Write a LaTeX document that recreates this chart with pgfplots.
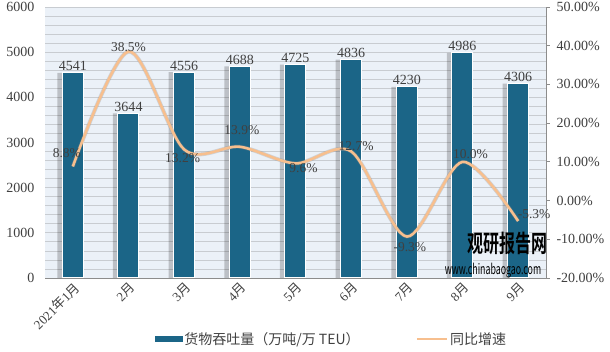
\documentclass[border=0pt]{standalone}
\usepackage{pgfplots}
\pgfplotsset{compat=1.18}
\usepackage{fontspec}
\setmainfont{Liberation Serif}
\newfontfamily\cjk{Noto Sans CJK SC}
\newfontfamily\cjkb{Noto Sans CJK SC Bold}
\definecolor{barc}{HTML}{1B6587}
\definecolor{bgc}{HTML}{EBF1F8}
\definecolor{gridc}{HTML}{C8CCD1}
\definecolor{linec}{HTML}{F7BF8E}
\definecolor{textc}{HTML}{404040}
\definecolor{axc}{HTML}{8C8C8C}
\pgfkeys{/pgf/number format/1000 sep={}}
\newcommand\lbl[4]{\addplot[draw=none, forget plot, nodes near coords, point meta=explicit symbolic,
  nodes near coords style={anchor=center, xshift=#3pt, yshift=#4pt, font=\fontsize{13.5}{14}\selectfont, text=textc, inner sep=0pt}]
  coordinates {(#1) [#2]};}
\begin{document}
\begin{tikzpicture}
\path[use as bounding box] (0,0) rectangle (610pt,352pt);
\begin{axis}[
  at={(45pt,74pt)}, anchor=south west, scale only axis,
  width=501pt, height=271pt,
  xmin=-0.5, xmax=8.5, ymin=0, ymax=6000,
  ytick={0,1000,...,6000}, minor y tick num=4,
  ymajorgrids, yminorgrids,
  grid style={draw=gridc, line width=0.75pt},
  minor grid style={draw=gridc, line width=0.75pt},
  axis background/.style={fill=bgc},
  axis x line*=bottom, axis y line*=left,
  y axis line style={draw=none},
  x axis line style={draw=axc, line width=0.8pt, -},
  major tick length=0pt, minor tick length=0pt,
  xtick={0,...,8},
  xticklabels={2021{\cjk 年}1{\cjk 月},2{\cjk 月},3{\cjk 月},4{\cjk 月},5{\cjk 月},6{\cjk 月},7{\cjk 月},8{\cjk 月},9{\cjk 月}},
  x tick label style={rotate=45, anchor=north east, font=\fontsize{13}{13}\selectfont, text=textc, inner sep=2pt},
  y tick label style={font=\fontsize{14}{14}\selectfont, text=textc, xshift=-7pt},
  /pgf/number format/assume math mode=true,
  yticklabel={\pgfmathprintnumber[1000 sep={}]{\tick}},
  ybar, bar width=21pt,
  clip=false,
]
\addplot[bar shift=-3pt, bar width=25pt, fill=black, draw=none, opacity=0.2, forget plot]
  coordinates {(0,4541) (1,3644) (2,4556) (3,4688) (4,4725) (5,4836) (6,4230) (7,4986) (8,4306)};
\addplot[bar shift=0pt, fill=barc, draw=white, line width=1pt,
  nodes near coords={\pgfmathprintnumber[1000 sep={}]{\pgfplotspointmeta}},
  nodes near coords style={font=\fontsize{14}{14}\selectfont, text=textc, inner sep=1.5pt, anchor=south}]
  coordinates {(0,4541) (1,3644) (2,4556) (3,4688) (4,4725) (5,4836) (6,4230) (7,4986) (8,4306)};
\end{axis}
\begin{axis}[
  at={(45pt,74pt)}, anchor=south west, scale only axis,
  width=501pt, height=271pt,
  xmin=-0.5, xmax=8.5, ymin=-20, ymax=50,
  axis x line=none, axis y line*=right,
  y axis line style={draw=axc, line width=0.8pt, -},
  ytick={-20,-10,...,50},
  tick align=outside, major tick length=4pt,
  tick style={draw=axc, line width=0.8pt},
  /pgf/number format/assume math mode=true,
  yticklabel={\pgfmathprintnumber[fixed, fixed zerofill, precision=2]{\tick}\%},
  y tick label style={font=\fontsize{14}{14}\selectfont, text=textc, xshift=3pt},
  clip=false,
  legend style={at={(0.572,-0.225)}, anchor=center, draw=none, fill=none,
    font=\cjk\fontsize{14}{14}\selectfont, text=textc, legend columns=2,
    /tikz/every even column/.append style={column sep=54pt}},
]
\addlegendimage{legend image code/.code={\fill[barc] (0pt,-2.5pt) rectangle (27pt,2.5pt);}}
\addlegendentry{货物吞吐量（万吨/万 TEU）}
\addlegendimage{legend image code/.code={\draw[linec, line width=2.5pt] (0pt,0pt) -- (30pt,0pt);}}
\addlegendentry{同比增速}
\addplot[smooth, draw=black!45, opacity=0.3, line width=4pt, forget plot]
  coordinates {(0,8.8) (1,38.5) (2,13.2) (3,13.9) (4,9.6) (5,12.7) (6,-9.3) (7,10.0) (8,-5.3)};
\addplot[smooth, draw=linec, line width=2.6pt, forget plot]
  coordinates {(0,8.8) (1,38.5) (2,13.2) (3,13.9) (4,9.6) (5,12.7) (6,-9.3) (7,10.0) (8,-5.3)};
\lbl{0,8.8}{8.8\%}{-6}{13}
\lbl{1,38.5}{38.5\%}{0}{4.5}
\lbl{2,13.2}{13.2\%}{-1.5}{-8.6}
\lbl{3,13.9}{13.9\%}{2}{16.7}
\lbl{4,9.6}{9.6\%}{8}{-5}
\lbl{5,12.7}{12.7\%}{5}{5}
\lbl{6,-9.3}{-9.3\%}{3}{-10.5}
\lbl{7,10.0}{10.0\%}{8}{8}
\lbl{8,-5.3}{-5.3\%}{16}{7}
\end{axis}
\node[anchor=center, yscale=1.5, inner sep=0pt] at (507pt,109pt) {\cjkb\fontsize{16}{16}\selectfont 观研报告网};
\node[anchor=center, xscale=0.8, yscale=1.3, inner sep=0pt] at (493pt,81pt) {\cjk\fontsize{11}{11}\selectfont www.chinabaogao.com};
\end{tikzpicture}
\end{document}
